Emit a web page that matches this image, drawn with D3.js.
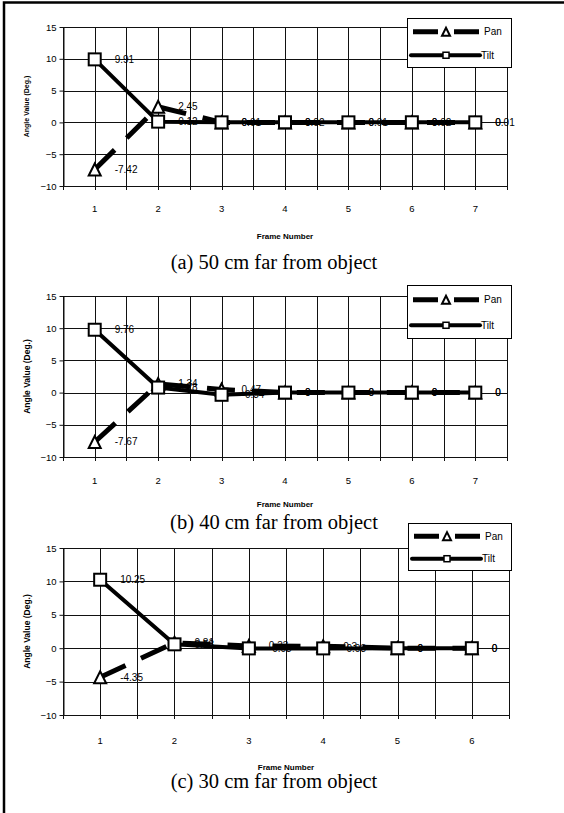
<!DOCTYPE html>
<html>
<head>
<meta charset="utf-8">
<script src="https://cdn.jsdelivr.net/npm/d3@7"></script>
<style>
  body { margin: 0; background: #fff; }
  svg { display: block; }
</style>
</head>
<body>
<script>
// values
const framesA = [1, 2, 3, 4, 5, 6, 7];
const panA = [-7.42, 2.45, 0, 0, 0, 0, 0];
const tiltA = [9.91, 0.12, 0.01, 0.02, 0.01, 0.02, 0.01];

const framesB = [1, 2, 3, 4, 5, 6, 7];
const panB = [-7.67, 1.34, 0.47, 0, 0, 0, 0];
const tiltB = [9.76, 0.78, -0.34, 0, 0, 0, 0];

const framesC = [1, 2, 3, 4, 5, 6];
const panC = [-4.35, 0.81, 0.33, 0.3, 0, 0];
const tiltC = [10.25, 0.58, -0.03, -0.03, 0, 0];

const yTicks = [-10, -5, 0, 5, 10, 15];
const seriesNames = ['Pan', 'Tilt'];
const captions = [
  '(a) 50 cm far from object',
  '(b) 40 cm far from object',
  '(c) 30 cm far from object'
];

const W = 564, H = 813;
const SANS = '"Liberation Sans", Arial, sans-serif';
const SERIF = '"Liberation Serif", "Times New Roman", serif';
const DASH = '28,17';

// layout of each panel (pixels)
const panels = [
  { frames: framesA, pan: panA, tilt: tiltA, caption: captions[0],
    left: 63, right: 507, top: 27, bottom: 186, titleSize: 7,
    tickY: 209, fnY: 236, capY: 269, legend: [407, 18, 104, 49] },
  { frames: framesB, pan: panB, tilt: tiltB, caption: captions[1],
    left: 63, right: 507, top: 296, bottom: 457, titleSize: 8.5,
    tickY: 481, fnY: 504, capY: 529, legend: [407, 285, 104, 53] },
  { frames: framesC, pan: panC, tilt: tiltC, caption: captions[2],
    left: 63, right: 509, top: 548, bottom: 715, titleSize: 8.5,
    tickY: 741, fnY: 767, capY: 788, legend: [408, 523, 103, 47] }
];

const svg = d3.select('body').append('svg')
  .attr('width', W)
  .attr('height', H);

svg.append('rect').attr('width', W).attr('height', H).attr('fill', '#fff');

// page frame: only the left and top edges show
svg.append('path')
  .attr('d', `M4,${H} L4,2.5 L${W},2.5`)
  .attr('fill', 'none')
  .attr('stroke', '#000')
  .attr('stroke-width', 2.5);

panels.forEach(p => drawPanel(svg.append('g'), p));

function trianglePath(s) {
  return `M${-s / 2},${s / 2} L${s / 2},${s / 2} L0,${-s / 2} Z`;
}

function drawPanel(g, p) {
  const x = d3.scaleBand().domain(p.frames).range([p.left, p.right]);
  const y = d3.scaleLinear().domain([-10, 15]).range([p.bottom, p.top]);
  const half = x.bandwidth() / 2;

  // vertical grid at category edges and centres
  const vLines = [];
  p.frames.forEach(f => { vLines.push(x(f)); vLines.push(x(f) + half); });
  vLines.push(p.right);

  g.append('g')
    .selectAll('line.v')
    .data(vLines)
    .join('line')
      .attr('x1', d => Math.round(d) + 0.5)
      .attr('x2', d => Math.round(d) + 0.5)
      .attr('y1', p.top)
      .attr('y2', p.bottom + 4)
      .attr('stroke', '#111')
      .attr('stroke-width', 1);

  g.append('g')
    .selectAll('line.h')
    .data(yTicks)
    .join('line')
      .attr('x1', p.left)
      .attr('x2', p.right)
      .attr('y1', d => Math.round(y(d)) + 0.5)
      .attr('y2', d => Math.round(y(d)) + 0.5)
      .attr('stroke', '#111')
      .attr('stroke-width', 1);

  // y axis
  const yAxis = g.append('g')
    .attr('transform', `translate(${Math.round(p.left) + 0.5},0)`)
    .call(d3.axisLeft(y).tickValues(yTicks).tickSize(4).tickSizeOuter(0).tickPadding(3));
  yAxis.select('.domain').attr('stroke', '#111');
  yAxis.selectAll('line').attr('stroke', '#111');
  yAxis.selectAll('text')
    .attr('font-family', SANS)
    .attr('font-size', 9.5)
    .attr('fill', '#000');

  // x axis labels
  const xAxis = g.append('g')
    .attr('transform', `translate(0,${p.tickY})`)
    .call(d3.axisBottom(x).tickSize(0).tickPadding(0));
  xAxis.select('.domain').remove();
  xAxis.selectAll('text')
    .attr('dy', '0.35em')
    .attr('font-family', SANS)
    .attr('font-size', 9.5)
    .attr('fill', '#000');

  g.append('text')
    .attr('x', (p.left + p.right) / 2)
    .attr('y', p.fnY)
    .attr('dy', '0.35em')
    .attr('text-anchor', 'middle')
    .attr('font-family', SANS)
    .attr('font-weight', 'bold')
    .attr('font-size', 8)
    .text('Frame Number');

  g.append('text')
    .attr('transform', `translate(27,${(p.top + p.bottom) / 2}) rotate(-90)`)
    .attr('dy', '0.35em')
    .attr('text-anchor', 'middle')
    .attr('font-family', SANS)
    .attr('font-weight', 'bold')
    .attr('font-size', p.titleSize)
    .text('Angle Value (Deg.)');

  const line = d3.line()
    .x((d, i) => x(p.frames[i]) + half)
    .y(d => y(d));

  // Pan: long dashes, triangles
  g.append('path')
    .datum(p.pan)
    .attr('d', line)
    .attr('fill', 'none')
    .attr('stroke', '#000')
    .attr('stroke-width', 5)
    .attr('stroke-dasharray', DASH);

  // Tilt: solid, squares
  g.append('path')
    .datum(p.tilt)
    .attr('d', line)
    .attr('fill', 'none')
    .attr('stroke', '#000')
    .attr('stroke-width', 4)
    .attr('stroke-linejoin', 'round');

  g.append('g')
    .selectAll('path')
    .data(p.pan)
    .join('path')
      .attr('transform', (d, i) => `translate(${x(p.frames[i]) + half},${y(d)})`)
      .attr('d', trianglePath(12))
      .attr('fill', '#fff')
      .attr('stroke', '#000')
      .attr('stroke-width', 2);

  g.append('g')
    .selectAll('rect')
    .data(p.tilt)
    .join('rect')
      .attr('x', (d, i) => x(p.frames[i]) + half - 6)
      .attr('y', d => y(d) - 6)
      .attr('width', 12)
      .attr('height', 12)
      .attr('fill', '#fff')
      .attr('stroke', '#000')
      .attr('stroke-width', 2);

  // data labels to the right of each point
  [p.pan, p.tilt].forEach(vals => {
    g.append('g')
      .selectAll('text')
      .data(vals)
      .join('text')
        .attr('x', (d, i) => x(p.frames[i]) + half + 20)
        .attr('y', d => y(d))
        .attr('dy', '0.35em')
        .attr('font-family', SANS)
        .attr('font-size', 10)
        .attr('fill', '#000')
        .text(d => String(d));
  });

  g.append('text')
    .attr('x', 274)
    .attr('y', p.capY)
    .attr('text-anchor', 'middle')
    .attr('font-family', SERIF)
    .attr('font-size', 20.5)
    .text(p.caption);

  drawLegend(g, p.legend);
}

function drawLegend(g, box) {
  const [lx, ly, lw, lh] = box;
  const lg = g.append('g');
  lg.append('rect')
    .attr('x', lx + 0.5).attr('y', ly + 0.5)
    .attr('width', lw).attr('height', lh)
    .attr('fill', '#fff')
    .attr('stroke', '#000')
    .attr('stroke-width', 1);

  const r1 = ly + lh * 0.28;
  const r2 = ly + lh * 0.76;

  lg.append('line')
    .attr('x1', lx + 6).attr('x2', lx + 72)
    .attr('y1', r1).attr('y2', r1)
    .attr('stroke', '#000')
    .attr('stroke-width', 5)
    .attr('stroke-dasharray', '25,16');
  lg.append('path')
    .attr('transform', `translate(${lx + 39},${r1})`)
    .attr('d', trianglePath(8))
    .attr('fill', '#fff')
    .attr('stroke', '#000')
    .attr('stroke-width', 2);

  lg.append('line')
    .attr('x1', lx + 4).attr('x2', lx + 73)
    .attr('y1', r2).attr('y2', r2)
    .attr('stroke', '#000')
    .attr('stroke-width', 4)
    .attr('stroke-linecap', 'round');
  lg.append('rect')
    .attr('x', lx + 36).attr('y', r2 - 3)
    .attr('width', 6).attr('height', 6)
    .attr('fill', '#fff')
    .attr('stroke', '#000')
    .attr('stroke-width', 1.5);

  lg.selectAll('text')
    .data(seriesNames)
    .join('text')
      .attr('x', (d, i) => lx + (i ? 74 : 77))
      .attr('y', (d, i) => i ? r2 : r1)
      .attr('dy', '0.35em')
      .attr('font-family', SANS)
      .attr('font-size', 10)
      .text(d => d);
}
</script>
</body>
</html>
